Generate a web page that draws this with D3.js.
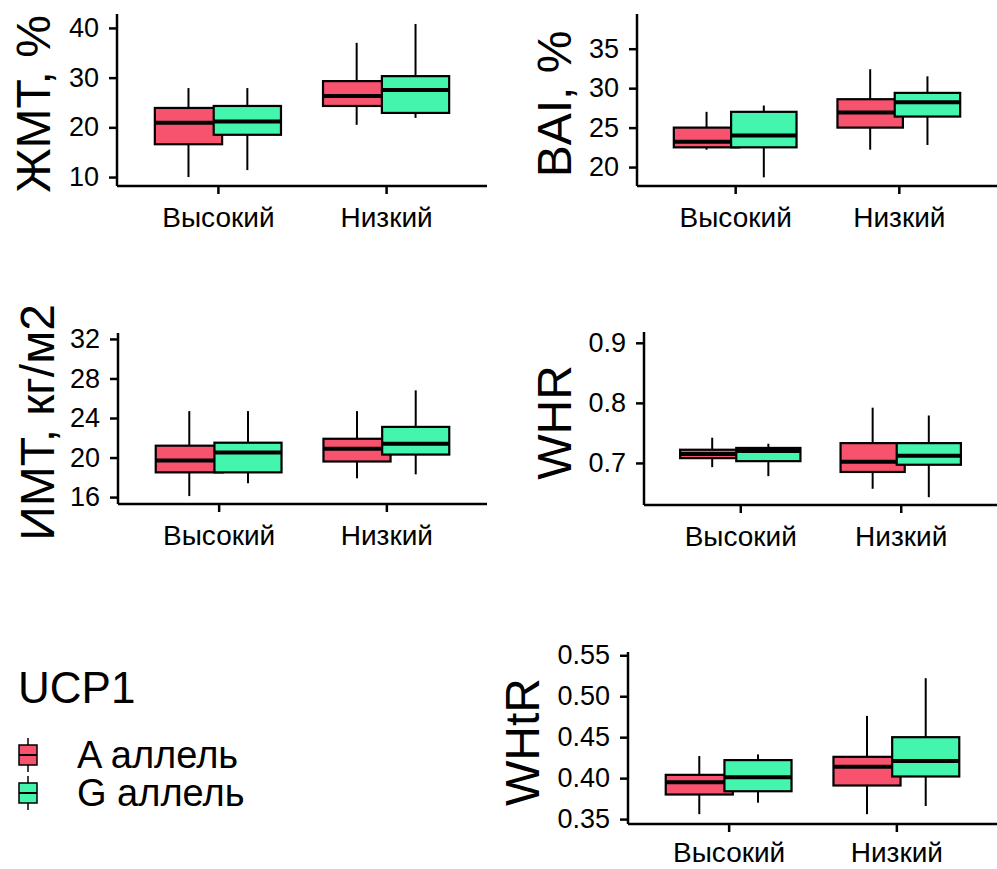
<!DOCTYPE html>
<html>
<head>
<meta charset="utf-8">
<script src="https://cdn.jsdelivr.net/npm/d3@7"></script>
<style>
  body { margin: 0; background: #fff; }
  svg text { font-family: "Liberation Sans", Arial, sans-serif; fill: #000; }
</style>
</head>
<body>
<svg id="chart" width="997" height="869"></svg>
<script>
const groups = ["Высокий", "Низкий"]
const alleles = ["A аллель", "G аллель"]
const alleleColors = ["#F7536F", "#44F5AE"]

// each box: [whisker low, q1, median, q3, whisker high], order: group x allele
const zmt = [[[10.0, 16.6, 20.9, 23.9, 27.9], [11.4, 18.5, 21.2, 24.3, 27.9]],
             [[20.5, 24.3, 26.3, 29.3, 37.0], [21.9, 22.9, 27.5, 30.3, 40.8]]]
const bai = [[[22.2, 22.5, 23.2, 25.0, 27.0], [18.7, 22.5, 24.0, 27.0, 27.8]],
             [[22.2, 25.0, 26.9, 28.6, 32.4], [22.8, 26.4, 28.2, 29.4, 31.5]]]
const imt = [[[16.1, 18.5, 19.7, 21.2, 24.7], [17.4, 18.5, 20.5, 21.5, 24.7]],
             [[17.9, 19.6, 20.9, 21.9, 24.7], [18.3, 20.3, 21.4, 23.1, 26.8]]]
const whr = [[[0.693, 0.708, 0.715, 0.722, 0.742], [0.678, 0.703, 0.720, 0.725, 0.732]],
             [[0.657, 0.685, 0.702, 0.733, 0.792], [0.643, 0.697, 0.712, 0.733, 0.779]]]
const whtr = [[[0.356, 0.380, 0.395, 0.404, 0.427], [0.370, 0.384, 0.401, 0.422, 0.429]],
              [[0.356, 0.391, 0.414, 0.426, 0.476], [0.366, 0.402, 0.421, 0.450, 0.522]]]

const zmtTicks = [10, 20, 30, 40]
const baiTicks = [20, 25, 30, 35]
const imtTicks = [16, 20, 24, 28, 32]
const whrTicks = [0.7, 0.8, 0.9]
const whtrTicks = [0.35, 0.40, 0.45, 0.50, 0.55]

const svg = d3.select("#chart")

function panel(opts){
    const {data, title, ticks, fmt, domain, x0, x1, top, bottom, titleX, labelPad = 12} = opts
    const g = svg.append("g")
    const y = d3.scaleLinear().domain(domain).range([bottom, top])
    const x = d3.scalePoint().domain(groups).range([x0, x1]).padding(0.6)
    const step = x.step()
    const boxW = step * 0.4
    const dodge = step * 0.175

    // boxes
    groups.forEach((grp, gi) => {
        alleles.forEach((al, ai) => {
            const [lo, q1, med, q3, hi] = data[gi][ai]
            const cx = x(grp) + (ai == 0 ? -dodge : dodge)
            g.append("line").attr("x1", cx).attr("x2", cx)
                .attr("y1", y(hi)).attr("y2", y(q3))
                .attr("stroke", "#000").attr("stroke-width", 2)
            g.append("line").attr("x1", cx).attr("x2", cx)
                .attr("y1", y(q1)).attr("y2", y(lo))
                .attr("stroke", "#000").attr("stroke-width", 2)
            g.append("rect").attr("x", cx - boxW/2).attr("y", y(q3))
                .attr("width", boxW).attr("height", y(q1) - y(q3))
                .attr("fill", alleleColors[ai]).attr("stroke", "#000").attr("stroke-width", 2.2)
            g.append("line").attr("x1", cx - boxW/2).attr("x2", cx + boxW/2)
                .attr("y1", y(med)).attr("y2", y(med))
                .attr("stroke", "#000").attr("stroke-width", 4)
        })
    })

    // axes
    const yAxis = g.append("g").attr("transform", `translate(${x0},0)`)
        .call(d3.axisLeft(y).tickValues(ticks).tickFormat(fmt).tickSize(8).tickPadding(10))
    const xAxis = g.append("g").attr("transform", `translate(0,${bottom})`)
        .call(d3.axisBottom(x).tickSize(8).tickPadding(labelPad))
    for(const ax of [yAxis, xAxis]){
        ax.select(".domain").remove()
        ax.selectAll("line").attr("stroke", "#000").attr("stroke-width", 2.5)
        ax.selectAll("text").attr("fill", "#000")
    }
    yAxis.selectAll("text").style("font-size", "27px")
    xAxis.selectAll("text").style("font-size", "28px").attr("dy", "0.76em")
    g.append("line").attr("x1", x0).attr("x2", x0).attr("y1", top).attr("y2", bottom)
        .attr("stroke", "#000").attr("stroke-width", 2.5)
    g.append("line").attr("x1", x0).attr("x2", x1).attr("y1", bottom).attr("y2", bottom)
        .attr("stroke", "#000").attr("stroke-width", 2.5)

    g.append("text")
        .attr("transform", `translate(${titleX},${(top + bottom)/2 + 4}) rotate(-90)`)
        .attr("text-anchor", "middle")
        .style("font-size", "48px")
        .text(title)
}

panel({data: zmt, title: "ЖМТ, %", ticks: zmtTicks, fmt: d3.format("d"), domain: [8.2, 42.8],
       x0: 117, x1: 487, top: 14, bottom: 186, titleX: 50})
panel({data: bai, title: "BAI, %", ticks: baiTicks, fmt: d3.format("d"), domain: [17.6, 39.4],
       x0: 637, x1: 997, top: 14, bottom: 186, titleX: 571})
panel({data: imt, title: "ИМТ, кг/м2", ticks: imtTicks, fmt: d3.format("d"), domain: [15.3, 32.6],
       x0: 118, x1: 487, top: 333, bottom: 504, titleX: 54})
panel({data: whr, title: "WHR", ticks: whrTicks, fmt: d3.format(".1f"), domain: [0.630, 0.918],
       x0: 644, x1: 997, top: 332, bottom: 505, titleX: 571})
panel({data: whtr, title: "WHtR", ticks: whtrTicks, fmt: d3.format(".2f"), domain: [0.344, 0.554],
       x0: 628, x1: 997, top: 652, bottom: 824, titleX: 539, labelPad: 9})

// legend
const legend = svg.append("g")
legend.append("text").attr("x", 18).attr("y", 703).style("font-size", "44px").text("UCP1")
alleles.forEach((al, i) => {
    const cy = 755 + i * 38
    legend.append("line").attr("x1", 28).attr("x2", 28).attr("y1", cy - 17).attr("y2", cy + 17)
        .attr("stroke", "#000").attr("stroke-width", 1.5)
    legend.append("rect").attr("x", 19).attr("y", cy - 10).attr("width", 18).attr("height", 20)
        .attr("fill", alleleColors[i]).attr("stroke", "#000").attr("stroke-width", 1.5)
    legend.append("line").attr("x1", 19).attr("x2", 37).attr("y1", cy).attr("y2", cy)
        .attr("stroke", "#000").attr("stroke-width", 2)
    legend.append("text").attr("x", 77).attr("y", cy + 13).style("font-size", "38px").text(al)
})
</script>
</body>
</html>
